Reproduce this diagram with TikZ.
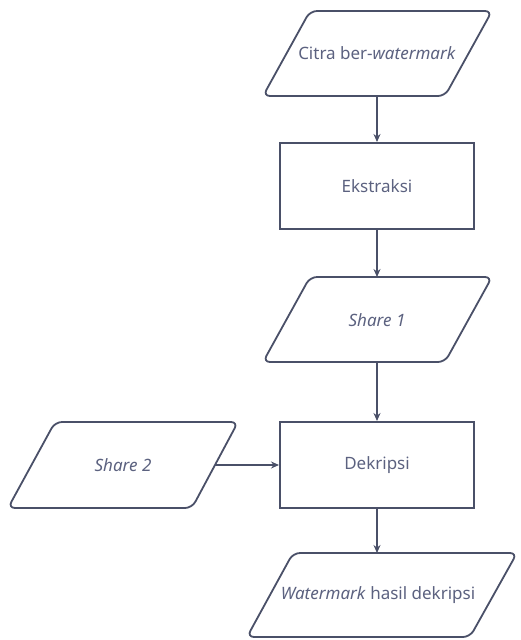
\documentclass[tikz,border=0pt]{standalone}
\usepackage{fontspec}
\setmainfont{Noto Sans}
\usetikzlibrary{arrows.meta}
\definecolor{linec}{HTML}{4A5068}
\definecolor{textc}{HTML}{5C6280}
\begin{document}
\begin{tikzpicture}[x=1pt,y=-1pt,
  shapeline/.style={draw=linec, line width=1.8pt, rounded corners=7pt, fill=white},
  procbox/.style={draw=linec, line width=2pt, minimum width=194pt, minimum height=86pt, text=textc, font=\fontsize{17}{20}\selectfont, inner sep=0pt},
  lbl/.style={text=textc, font=\fontsize{17}{20}\selectfont, inner sep=0pt},
  conn/.style={draw=linec, line width=1.2pt, -{Stealth[length=8pt,width=7pt]}}]
\useasboundingbox (0,0) rectangle (520,640);
% input parallelogram
\draw[shapeline] (310,11) -- (492,11) -- (445,96) -- (263,96) -- cycle;
\node[lbl] (citra) at (377,53) {Citra ber-\textit{watermark}};
\coordinate (citrabot) at (377,96);
% Ekstraksi
\node[procbox] (ekstraksi) at (377,186) {Ekstraksi};
% Share 1
\draw[shapeline] (310,277) -- (492,277) -- (445,362) -- (263,362) -- cycle;
\node[lbl] (share1) at (377,320) {\textit{Share 1}};
\coordinate (share1top) at (377,277);
\coordinate (share1bot) at (377,362);
% Dekripsi
\node[procbox] (dekripsi) at (377,465) {Dekripsi};
% Share 2
\draw[shapeline] (55,422) -- (238,422) -- (192,508) -- (8,508) -- cycle;
\node[lbl] (share2) at (123,465) {\textit{Share 2}};
\coordinate (share2right) at (215,465);
% output
\draw[shapeline] (293,553) -- (517,553) -- (470,637) -- (247,637) -- cycle;
\node[lbl] (wm) at (378,595) {\textit{Watermark} hasil dekripsi};
\coordinate (wmtop) at (377,553);
% connectors
\draw[conn] (citrabot) -- (ekstraksi.north);
\draw[conn] (ekstraksi.south) -- (share1top);
\draw[conn] (share1bot) -- (dekripsi.north);
\draw[conn] (share2right) -- (dekripsi.west);
\draw[conn] (dekripsi.south) -- (wmtop);
\end{tikzpicture}
\end{document}
